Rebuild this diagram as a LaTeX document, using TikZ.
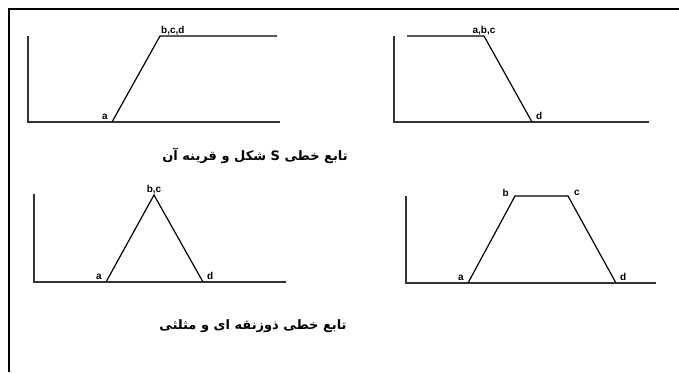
\documentclass[tikz,border=0pt]{standalone}
\usepackage{fontspec}
\setmainfont{Liberation Sans}
\newfontfamily\arabicfont[Script=Arabic]{DejaVu Sans}
\TeXXeTstate=1
\usepackage{tikz}
\usetikzlibrary{positioning}

\begin{document}
\begin{tikzpicture}[
    x=1pt, y=-1pt,
    axis/.style={line width=1.4pt, draw=black!80},
    curve/.style={line width=1.2pt, draw=black},
    lbl/.style={font=\bfseries\fontsize{10}{11}\selectfont, inner sep=1pt},
    caption/.style={font=\arabicfont\bfseries\fontsize{13}{15}\selectfont, inner sep=0pt}
]
\useasboundingbox (0,0) rectangle (679,372);
% frame
\draw[line width=2pt] (9,372) -- (9,9) -- (679,9);

% S-shaped
\coordinate (o1) at (28,122);
\coordinate (y1) at (28,36);
\coordinate (x1) at (280,122);
\coordinate (a1) at (112,122);
\coordinate (b1) at (160,36);
\coordinate (e1) at (277,36);
\draw[axis] (y1) -- (o1) -- (x1);
\draw[curve] (a1) -- (b1) -- (e1);
\node (la1) [lbl, above left=1pt and 3pt of a1] {a};
\node (lb1) [lbl, above right=0pt and 0pt of b1] {b,c,d};

% mirrored S
\coordinate (o2) at (394,122);
\coordinate (y2) at (394,36);
\coordinate (x2) at (649,122);
\coordinate (s2) at (407,36);
\coordinate (c2) at (484,36);
\coordinate (d2) at (532,122);
\draw[axis] (y2) -- (o2) -- (x2);
\draw[curve] (s2) -- (c2) -- (d2);
\node (lc2) [lbl, above=0pt of c2] {a,b,c};
\node (ld2) [lbl, above right=1pt and 3pt of d2] {d};

\node (cap1) [caption] at (255,156) {\beginR تابع خطی \beginL S\endL{} شکل و قرینه آن\endR};

% triangle
\coordinate (o3) at (34,282);
\coordinate (y3) at (34,194);
\coordinate (x3) at (286,282);
\coordinate (a3) at (106,282);
\coordinate (b3) at (154,195);
\coordinate (d3) at (203,282);
\draw[axis] (y3) -- (o3) -- (x3);
\draw[curve] (a3) -- (b3) -- (d3);
\node (la3) [lbl, above left=1pt and 3pt of a3] {a};
\node (lb3) [lbl, above=0pt of b3] {b,c};
\node (ld3) [lbl, above right=1pt and 3pt of d3] {d};

% trapezoid
\coordinate (o4) at (406,283);
\coordinate (y4) at (406,196);
\coordinate (x4) at (656,283);
\coordinate (a4) at (468,283);
\coordinate (b4) at (515,196);
\coordinate (c4) at (568,196);
\coordinate (d4) at (616,283);
\draw[axis] (y4) -- (o4) -- (x4);
\draw[curve] (a4) -- (b4) -- (c4) -- (d4);
\node (la4) [lbl, above left=1pt and 3pt of a4] {a};
\node (lb4) [lbl, left=5pt of b4, yshift=3pt] {b};
\node (lc4) [lbl, right=5pt of c4, yshift=3pt] {c};
\node (ld4) [lbl, above right=1pt and 3pt of d4] {d};

\node (cap2) [caption] at (253,326) {\beginR تابع خطی ذوزنقه ای و مثلثی\endR};
\end{tikzpicture}
\end{document}
